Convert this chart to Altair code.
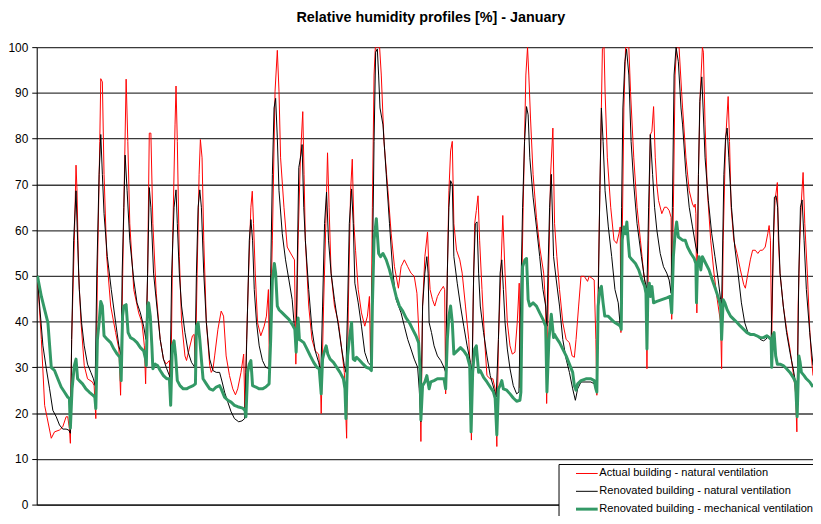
import altair as alt
import pandas as pd

series_names = [
    "Actual building - natural ventilation",
    "Renovated building - natural ventilation",
    "Renovated building - mechanical ventilation",
]
series_colors = ["#ff0000", "#000000", "#339966"]
series_widths = [1.0, 1.0, 3.0]
y_ticks = [0, 10, 20, 30, 40, 50, 60, 70, 80, 90, 100]

# Actual building - natural ventilation
red_hours = [0.7, 4.7, 8, 14.7, 18, 23, 26.3, 29.7, 31.3, 33, 34, 35.3, 38, 39.7, 40.7, 42.3, 44.7, 48, 51.3, 56.3, 58, 59.7,
             61.3, 63.7, 64.7, 66.3, 68, 70.7, 74.7, 79.7, 83, 84.7, 86.3, 88, 90.3, 92, 94, 98, 103, 106.3, 108.7, 110,
             112, 113.7, 115.3, 117.3, 120.7, 124.7, 128, 130.7,
             134, 135.3, 137.3, 139.7, 140.7, 142, 144, 146.3, 149.7, 151.3, 154, 157.3, 159, 160.3, 162, 164, 165.3, 167,
             168.7, 171.3, 174.7, 176.3, 178, 179.7, 183, 186.3, 188.7, 191.3, 194.7, 198, 200.7, 203, 206.3, 209, 210.3,
             212, 214, 216.3, 217.7, 219, 220.7, 223, 226.3, 229.7, 232, 234, 235, 238, 240.7, 243, 244.7, 246.3, 249.7,
             253, 256.3, 260.3, 261.7,
             264, 266.3, 268.7, 270, 271.3, 274.7, 278, 281.3, 284.7, 286.3, 287.3, 289.7, 292, 293.7, 295.3, 297.3, 300.7,
             304.7, 308, 310.7, 313, 314.7, 317, 318.7, 320.3, 322, 324.7, 328, 331.3, 334, 336, 337.3, 339, 340.7, 342,
             346.3, 348, 350.7, 354.7, 358, 361.3, 365.3, 368, 371.3, 374.7, 378, 381.3, 384, 386.3, 388,
             389.7, 392, 394.7, 396.3, 397.3, 399.7, 402, 404.7, 407.3, 410.7, 412, 413, 414.7, 416.3, 418, 419.7, 421.3,
             424, 427.3, 429.7, 433, 436.3, 438, 439, 440.7, 442.3, 444, 445.7, 447.3, 449.7, 452.3, 454.7, 458, 460.7, 463,
             464.7, 466.3, 468.7, 470.7, 473, 475.3, 478, 480.3, 483, 485.3, 487.3, 488, 491.3, 494, 495.7, 497, 498.7,
             501.3, 504.7, 508, 512, 514, 515, 517, 519, 521.3,
             523, 525.3, 528, 531.3, 534.7, 538, 540.7, 543, 544.7, 547.3, 549.7, 553, 556.3, 558, 560.7, 563, 564.7, 565.7,
             567.3, 569.7, 571.3, 573, 574, 576.3, 579.7, 583, 585.7, 588, 589.3, 590, 591.3, 593, 594.7, 598, 599.7, 603,
             606.3, 609.7, 613, 615.3, 616.3, 618, 619.7, 621.3, 623, 624.7, 626.3, 628, 631.3, 634, 636.3, 638.7, 640.7,
             641.3, 643, 644.7, 646.3, 648.7, 651.3,
             652.3, 655.7, 659, 662.3, 664, 665, 665.7, 666.7, 668.3, 670, 672.3, 673.3, 675, 677.3, 680.7, 684, 687.3,
             690.7, 691.7, 693.3, 695.7, 698.3, 699.7, 701.3, 704, 707.3, 710.7, 714, 715.7, 718.3, 720.7, 723, 725.7,
             728.3, 730.7, 733, 735.7, 738.3, 739.7, 741, 742.3, 744, 745.7, 748, 749, 750.7, 754, 757.3, 760.7, 764,
             766.3, 767.7, 769, 770.7, 772.3, 774, 775.7, 778.3, 780.7, 782.3, 784]
red_rh = [50, 36.1, 21.7, 14.5, 15.9, 16.3, 17.0, 19.2, 19.2, 16.7, 13.4, 36.1, 57.8, 74.2, 68.6, 50.6, 40.0, 30.4, 27.5, 26.8, 26.0, 18.8,
          50.6, 79.4, 93.1, 92.4, 72.2, 54.2, 43.4, 37.6, 34.0, 23.9, 43.4, 65.0, 93.0, 79.4, 61.4, 47.0, 41.9, 39.8, 34.7, 26.4,
          50.6, 81.2, 81.2, 61.4, 46.2, 36.1, 31.8, 30.7,
          31.5, 21.7, 57.8, 83.0, 91.5, 79.4, 54.2, 40.0, 32.5, 31.5, 34.0, 36.9, 37.2, 30.0, 50.6, 72.2, 79.8, 75.8,
          57.8, 40.0, 30.4, 28.9, 29.6, 32.5, 38.3, 42.3, 41.2, 32.5, 28.2, 25.3, 24.0, 25.3, 28.9, 32.9, 20.3,
          36.1, 50.6, 65.0, 68.5, 61.4, 50.6, 39.8, 36.9, 39.0, 41.2, 47.0, 30.0, 57.8, 90.3, 99.3, 90.3, 75.8, 65.0,
          56.3, 55.0, 53.5, 30.7,
          57.8, 75.8, 85.9, 72.2, 57.8, 43.4, 36.1, 33.6, 32.9, 28.9, 19.9, 43.4, 61.4, 76.9, 65.0, 50.6, 43.4,
          39.8, 34.0, 28.9, 14.5, 43.4, 68.6, 75.5, 61.4, 55.6, 47.0, 41.9, 39.0, 41.2, 45.5, 29.7, 65.0, 93.9, 100,
          100, 93.9, 79.4, 68.6, 59.2, 52.0, 47.3, 52.0, 53.5, 52.0, 50.6, 49.9, 46.2, 36.1, 13.8,
          43.4, 54.2, 59.6, 50.6, 47.0, 44.8, 43.4, 45.5, 46.6, 47.7, 47.0, 24.2, 50.6, 68.6, 77.3, 79.4, 61.4,
          55.6, 53.5, 50.6, 43.4, 36.1, 28.9, 14.1, 43.4, 61.4, 64.3, 67.5, 57.8, 47.0, 36.1, 28.2, 27.5, 27.5, 25.3,
          12.7, 36.1, 50.6, 63.2, 50.6, 39.8, 34.7, 32.9, 33.3, 39.8, 48.4, 25.5, 65.0, 93.9, 100, 93.9, 84.5,
          72.2, 62.8, 56.3, 50.6, 43.4, 22.1, 50.6, 72.2, 82.3,
          61.4, 54.2, 47.0, 39.8, 36.1, 35.4, 32.5, 32.2, 36.1, 43.4, 49.9, 49.9, 48.8, 49.9, 49.5, 49.1, 36.1, 23.9,
          50.6, 79.4, 99.6, 100, 90.3, 75.8, 65.0, 57.8, 57.1, 59.2, 60.7, 37.6, 57.8, 86.7, 100, 100, 90.3, 75.8,
          65.0, 57.8, 50.6, 47.0, 29.7, 57.8, 80.9, 81.6, 87.0, 75.8, 69.9, 66.5, 63.6, 65.0, 65.0, 64.3, 62.8,
          40.5, 65.0, 93.9, 100, 100, 90.3,
          86.7, 75.8, 68.6, 65.7, 65.0, 65.7, 63.6, 41.9, 72.2, 89.2, 100, 98.9, 83.0, 68.6, 57.8, 50.6, 44.8,
          39.8, 29.7, 57.8, 79.4, 89.2, 79.4, 65.0, 57.8, 54.9, 51.3, 48.1, 47.3, 50.6, 53.5, 55.6, 55.6,
          54.9, 55.6, 55.6, 56.3, 59.2, 61.0, 57.8, 36.1, 57.8, 66.5, 70.4, 57.8, 50.6, 43.4, 38.3, 34.0, 28.9,
          24.6, 15.9, 43.4, 57.8, 66.5, 72.6, 61.4, 50.6, 38.3, 32.5, 28.2]

# Renovated building - natural ventilation
black_hours = [0.7, 3, 6.3, 9.7, 13, 16.3, 19.7, 23, 26.3, 29.7, 32.3, 34, 35.3, 37.3, 39.7, 41.3, 43, 45.3, 48, 51.3, 54.7, 57.3, 59,
               60.7, 63, 64.7, 66.3, 68, 71.3, 75.3, 79.7, 83, 85.3, 86.3, 88, 89.3, 91.3, 94, 98, 101.3, 104.7, 108, 110.3,
               112, 113.7, 115.3, 118, 121.3, 124.7, 128, 131.3,
               134.7, 136.3, 138.7, 140.7, 142, 144, 146.3, 149.7, 153, 156.3, 159.7, 161.3, 163, 164.7, 166.3, 168.7,
               171.3, 174.7, 178, 181.3, 184.7, 187.3, 189.7, 193, 196.3, 199.7, 204, 207.3, 210, 211.3, 213, 214.7,
               216.3, 218, 219.7, 222, 224.7, 228, 231.3, 234.7, 236.3, 238, 239.7, 241.3, 243, 244.7, 248, 251.3,
               254.7, 258, 262,
               263, 264.7, 267, 268, 269.7, 271.3, 274.7, 278, 281.3, 284.7, 287, 288.7, 290.7, 292.7, 294.7, 297.3, 300.7,
               304.7, 308, 310.7, 312.3, 314, 315.7, 318, 319.7, 321.3, 324.7, 328, 331.3, 334.7, 337.3, 339, 340.7, 342.3,
               344, 345.3, 346.7, 349.7, 353, 356.3, 359.7, 363, 368, 371.3, 374.7, 378, 381.3, 384.7, 386.3, 388,
               389.7, 392, 394, 395.3, 396.3, 398.7, 401.3, 404.7, 408, 411.3, 413, 414.7, 416.3, 418, 419.7, 421.3, 424.7,
               428, 431.3, 434.7, 438, 439.7, 441.3, 443, 444.7, 446.3, 448, 451.3, 454.7, 458, 461.3, 464, 466.3, 468,
               469.7, 471.3, 473, 475.3, 478, 481.3, 484.7, 487, 488.7, 490.7, 492.7, 494.7, 496.3, 498, 501.3, 504.7,
               508, 511.3, 514, 515.3, 516.3, 518, 519.7,
               522, 524.7, 528, 531.3, 534.7, 538, 541.3, 544, 546.3, 549.7, 554.7, 559.7, 563, 565.3, 567, 568.7, 570.3,
               572, 574, 577.3, 580.7, 584, 587.3, 589.3, 590.7, 592, 594, 595.7, 598, 600.3, 603, 606.3, 610.7, 614,
               616.3, 618, 619.7, 622, 624, 626.3, 629.7, 633, 636.3, 638.7, 640.7, 642, 643.7, 645.7, 648, 650.7,
               652.3, 655.7, 659, 662.3, 665.7, 667.3, 668.3, 669.7, 671.7, 673, 675, 678.3, 681.7, 685, 688.3, 690.7,
               691.7, 694, 695.7, 697.3, 699, 701.7, 705, 708.3, 711.7, 715, 718.3, 722.3, 727.3, 730.7, 734, 736.3, 739,
               741.7, 743.3, 745, 746.7, 748.3, 750.7, 754, 757.3, 760.7, 764, 766.3, 768, 769.7, 771.3, 773, 775, 777.3,
               780.7, 784]
black_rh = [50, 43.4, 34.7, 29.7, 25.3, 20.6, 19.2, 17.4, 16.5, 16.5, 16.3, 15.6, 36.1, 57.8, 68.6, 57.8, 47.0, 39.8, 34.7, 30.7, 28.9, 27.5, 26.0,
            50.6, 72.2, 80.9, 72.2, 63.6, 54.2, 47.0, 39.8, 34.7, 32.5, 50.6, 65.0, 76.4, 68.6, 57.8, 49.1, 44.1, 41.9, 39.0, 36.1,
            50.6, 69.3, 65.0, 50.6, 43.4, 36.1, 31.8, 29.7,
            27.8, 50.6, 65.0, 68.8, 61.4, 50.6, 43.4, 37.6, 33.3, 31.1, 30.0, 50.6, 65.0, 68.8, 65.0, 50.6,
            39.8, 31.8, 29.3, 28.9, 28.9, 26.8, 24.6, 22.4, 20.3, 18.8, 18.1, 18.3, 18.8, 28.9, 43.4, 57.8,
            62.3, 57.8, 47.0, 39.8, 34.7, 31.5, 30.0, 29.7, 50.6, 72.2, 86.7, 88.8, 80.2, 68.6, 59.2, 53.5,
            49.1, 44.8, 34.0,
            50.6, 73.7, 76.6, 78.7, 65.0, 57.8, 47.0, 38.3, 33.6, 31.1, 28.9, 43.4, 61.4, 68.3, 57.8, 50.6, 44.8,
            39.0, 34.0, 30.4, 28.9, 43.4, 61.4, 69.0, 61.4, 48.4, 44.1, 39.0, 33.3, 31.1, 30.4, 50.6, 79.4, 98.9,
            99.6, 93.9, 86.7, 83.0, 72.2, 61.4, 50.6, 44.8, 41.9, 39.0, 36.1, 34.0, 31.8, 30.0, 25.3, 18.1,
            43.4, 50.6, 54.2, 50.6, 39.8, 37.6, 34.7, 32.5, 31.5, 30.0, 28.9, 50.6, 65.0, 70.8, 70.0, 54.2, 48.4,
            43.4, 39.0, 34.7, 31.1, 28.9, 50.6, 61.4, 61.8, 50.6, 43.4, 37.6, 32.5, 28.2, 25.7, 23.5, 36.1, 50.6,
            53.5, 47.0, 39.8, 34.0, 29.7, 26.0, 24.2, 24.6, 43.4, 65.0, 79.4, 87.0, 85.2, 75.8, 67.2, 60.7,
            54.2, 47.0, 43.4, 39.0, 50.6, 65.0, 72.2,
            54.2, 49.1, 43.4, 36.1, 31.8, 28.9, 25.3, 22.8, 25.3, 26.8, 26.8, 26.8, 26.4, 25.3, 43.4, 68.6, 86.7,
            79.4, 68.6, 60.7, 54.2, 47.0, 44.1, 39.0, 65.0, 86.7, 96.8, 99.6, 93.9, 79.4, 70.0, 61.4, 54.2, 49.1,
            47.0, 65.0, 80.9, 72.2, 65.0, 60.0, 54.9, 52.0, 50.6, 49.1, 46.2, 65.0, 93.9, 100, 96.8, 86.7,
            83.0, 72.2, 65.0, 60.7, 56.3, 54.9, 72.2, 88.1, 93.5, 86.7, 75.8, 66.5, 59.2, 54.2, 49.1, 44.8,
            43.4, 72.2, 80.2, 82.3, 75.8, 65.0, 56.3, 50.6, 44.1, 39.8, 37.6, 37.2, 36.9, 36.1, 35.8, 36.1, 36.9,
            36.1, 50.6, 67.2, 67.5, 65.0, 50.6, 43.4, 37.6, 33.3, 29.7, 26.8, 21.7, 50.6, 65.0, 66.6, 57.8, 47.0,
            37.6, 30.4]

# Renovated building - mechanical ventilation
green_hours = [0.7, 4.7, 8, 11.3, 14.7, 18, 21.3, 24.7, 28, 31.3, 33, 34, 35.7, 38, 39.7, 41.3, 43, 46.3, 49.7, 53, 56.3, 58.7, 59.7,
               61.3, 63, 64.7, 66.3, 68, 71.3, 74.7, 78, 81.3, 84, 85.3, 86.7, 88, 90.3, 92.3, 94.7, 98, 101.3, 104.7, 108,
               110, 110.7, 112, 113, 114.7, 116.3, 117.3, 119.7, 122, 124.7, 128, 131.3,
               134, 135.3, 137, 138.7, 140.3, 142, 144.7, 148, 151.3, 154.7, 158, 160.3, 161.3, 163, 164.7, 166.3, 168,
               171.3, 174.7, 178, 181.3, 184.7, 186.3, 189.7, 193, 196.3, 199.7, 203, 208, 210.3, 211.3, 213, 214.7,
               216.3, 218, 221.3, 224.7, 228, 231.3, 234.7, 236.3, 238, 240, 241.3, 243, 244.7, 248, 251.3, 254.7, 258,
               260.7, 262, 263, 264, 265.3, 267.3, 269.7, 273, 276.3, 279.7, 283, 285.3, 287.3, 288.7, 290.3, 292.3, 294,
               296.3, 299.7, 303, 306.3, 309.7, 311.3, 312.3, 314, 315.7, 318, 319.7, 321.3, 323, 326.3, 329.7, 333,
               336.3, 338, 339, 340.7, 343, 344, 345.3, 347.3, 349.7, 353, 356.3, 359.7, 363, 366.3, 369.7, 373, 376.3,
               379.7, 383, 385.7, 387.3, 388,
               389.7, 392, 394, 396.3, 398, 401.3, 404.7, 408, 411.3, 413, 414.7, 416.3, 418, 419.7, 421.3, 424.7, 428,
               431.3, 434.7, 437.3, 438.7, 440.3, 442.3, 444, 446.3, 448, 451.3, 454.7, 458, 461.3, 463, 464.7, 466.3,
               468, 469.7, 471.3, 474.7, 478, 481.3, 484.7, 488, 489, 490.7, 493, 494.7, 496.3, 498, 501.3, 504.7, 508,
               511.3, 514, 515.3, 517.3, 519.7, 522,
               523, 524.7, 528, 531.3, 534.7, 538, 541.3, 543, 544.7, 546.3, 549.7, 554.7, 559.7, 563, 564.7, 565.7, 567,
               568.7, 570.3, 572, 573.7, 577, 580.3, 583.7, 587, 589.3, 590.3, 591.3, 593, 594.7, 596, 597.3, 598.7,
               601.3, 604.7, 608, 611.3, 614, 615.3, 616.3, 617.3, 618.7, 619.7, 621.3, 623, 626.3, 631.3, 636.3, 639.7,
               641.3, 643, 644.7, 646.3, 648,
               652.3, 655, 657.3, 660.7, 664, 665.7, 666.3, 667.3, 669, 670.7, 672.3, 675.7, 679, 682.3, 685.7, 689,
               690.7, 691.7, 693.3, 695, 697.3, 700.7, 704, 707.3, 710.7, 714, 717.3, 720.7, 724, 727.3, 730.7, 734,
               737.3, 739.7, 741.7, 742.3, 743.3, 744.7, 746.3, 748, 750.7, 754, 757.3, 760.7, 764, 766.3, 768, 769.7,
               771, 772.3, 775, 777.3, 780.7, 784]
green_rh = [50, 45.5, 42.6, 39.8, 30.0, 29.3, 27.5, 25.7, 24.6, 23.5, 23.2, 16.7, 25.3, 30.4, 31.8, 27.5, 27.1, 26.4, 25.3, 24.6, 24.0, 23.5, 21.0,
            36.1, 39.8, 44.4, 43.4, 36.9, 36.1, 35.4, 34.0, 32.9, 32.2, 27.1, 41.2, 43.4, 43.7, 37.6, 36.5, 36.1, 35.4, 34.3, 33.6,
            31.8, 30.4, 43.4, 44.1, 41.2, 34.7, 29.7, 30.7, 30.4, 29.3, 28.2, 27.5,
            27.5, 21.7, 34.7, 35.8, 32.5, 27.1, 26.0, 25.3, 25.3, 25.7, 26.0, 26.4, 39.0, 39.8, 36.1, 31.8, 27.5,
            26.4, 25.3, 25.0, 25.7, 26.0, 25.3, 23.5, 22.8, 22.4, 21.7, 21.4, 21.1, 20.6, 19.2, 28.9, 30.7,
            31.5, 26.0, 25.7, 25.3, 25.3, 25.7, 26.4, 36.1, 49.1, 52.7, 50.6, 43.4, 42.6, 41.9, 41.2, 40.5, 39.4,
            38.3, 33.3, 38.3, 40.8, 36.1, 35.8, 35.4, 34.0, 32.5, 31.1, 30.0, 29.7, 24.2, 31.8, 33.3, 34.7, 32.9,
            31.8, 31.1, 30.0, 28.9, 27.5, 25.3, 18.8, 32.5, 36.1, 39.8, 31.8, 31.5, 32.2, 31.5, 30.7, 30.0,
            29.7, 29.3, 43.4, 57.8, 62.5, 59.2, 54.9, 54.2, 54.9, 53.5, 51.3, 48.4, 45.5, 43.4, 42.3, 40.8, 39.8,
            38.3, 36.9, 35.4, 28.9, 18.5,
            26.0, 26.8, 28.2, 25.3, 26.8, 27.1, 27.5, 27.5, 27.5, 25.3, 36.1, 41.2, 43.4, 39.8, 32.9, 33.6, 34.3,
            33.6, 32.5, 30.4, 15.9, 28.9, 34.0, 34.7, 28.9, 29.3, 27.8, 26.8, 25.7, 24.6, 23.2, 15.2, 25.3,
            26.0, 27.1, 25.3, 25.0, 24.2, 23.3, 22.6, 22.8, 24.6, 52.0, 53.5, 53.8, 44.8, 43.4, 44.1, 43.4, 41.9,
            40.5, 39.0, 24.6, 36.1, 41.6, 36.5,
            37.2, 36.5, 35.4, 34.0, 32.5, 30.7, 28.9, 26.0, 25.0, 26.4, 27.1, 27.5, 27.5, 27.1, 25.3, 24.6, 43.4,
            47.0, 47.7, 44.1, 41.2, 41.2, 40.5, 39.8, 39.4, 39.0, 38.3, 57.8, 60.7, 59.2, 61.8, 57.8, 54.2,
            53.5, 52.7, 51.3, 49.1, 47.7, 46.2, 34.0, 47.0, 48.4, 45.5, 47.7, 44.1, 44.4, 44.8, 45.2, 45.5,
            41.9, 54.2, 59.2, 61.8, 58.5,
            57.8, 57.8, 56.3, 54.9, 53.8, 52.7, 44.1, 52.0, 54.2, 51.3, 54.2, 52.7, 51.3, 49.1, 47.0, 44.8,
            43.4, 36.1, 44.8, 44.1, 42.6, 41.2, 40.5, 39.8, 39.0, 38.3, 37.6, 37.2, 37.2, 36.9, 36.5, 36.5,
            36.9, 36.5, 36.1, 30.0, 36.9, 37.6, 32.5, 30.7, 30.7, 30.4, 29.7, 28.9, 27.8, 26.8, 19.2, 32.5,
            31.1, 28.9, 28.2, 27.5, 26.8, 25.7]

rows = []
for name, width, hrs, vals in zip(series_names, series_widths,
                                  [red_hours, black_hours, green_hours], [red_rh, black_rh, green_rh]):
    for h, v in zip(hrs, vals):
        rows.append({"Hour": h, "RH": v, "Series": name, "LineWidth": width})
df = pd.DataFrame(rows)

FONT = "Liberation Sans"
mech = series_names[2]

chart = alt.Chart(df).mark_line(clip=True, strokeJoin="round").encode(
    x=alt.X("Hour:Q", scale=alt.Scale(domain=[0, 784], nice=False, zero=False),
            axis=alt.Axis(labels=False, ticks=False, grid=False, title=None,
                          domainColor="#000000", domainWidth=1)),
    y=alt.Y("RH:Q", scale=alt.Scale(domain=[0, 100], nice=False),
            axis=alt.Axis(values=y_ticks, title=None, grid=True, gridColor="#3a3a3a", gridWidth=1.3,
                          gridOpacity=1, domainColor="#000000", tickColor="#000000", tickSize=5,
                          labelFont=FONT, labelFontSize=12, labelColor="#000000", labelPadding=4)),
    color=alt.Color("Series:N", scale=alt.Scale(domain=series_names, range=series_colors),
                    legend=alt.Legend(title=None, orient="none", legendX=527, legendY=421,
                                      direction="vertical", fillColor="#ffffff", strokeColor="#000000",
                                      padding=4, symbolType="stroke", symbolSize=480, symbolOffset=19,
                                      rowPadding=6, labelFont=FONT, labelFontSize=11.2, labelColor="#000000",
                                      labelOffset=7, labelLimit=400,
                                      symbolStrokeWidth=alt.ExprRef(f"datum.value === '{mech}' ? 3 : 1"))),
    strokeWidth=alt.StrokeWidth("LineWidth:Q", scale=None, legend=None),
    detail="Series:N",
).properties(
    width=784,
    height=462,
    autosize=alt.AutoSizeParams(type="none"),
    padding={"left": 29, "top": 37, "right": 0, "bottom": 9},
    title=alt.TitleParams("Relative humidity profiles [%] - January", font=FONT, fontSize=14.5,
                          fontWeight="bold", color="#000000", anchor="middle", offset=16, dx=6),
).configure_view(strokeWidth=0).configure(background="#ffffff")

chart.save("out.html", embed_options={"renderer": "svg", "actions": False})
